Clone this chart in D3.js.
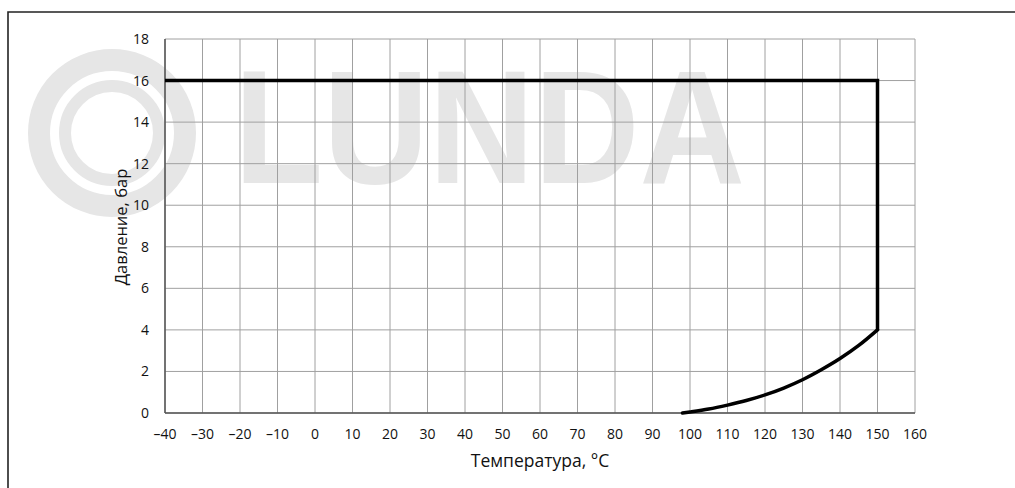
<!DOCTYPE html>
<html><head><meta charset="utf-8">
<script src="https://cdn.jsdelivr.net/npm/d3@7"></script>
<style>html,body{margin:0;padding:0;background:#fff;overflow:hidden}</style>
</head><body>
<svg id="c" width="1015" height="488"></svg>
<script>
// Data
const xTicks = [-40,-30,-20,-10,0,10,20,30,40,50,60,70,80,90,100,110,120,130,140,150,160];
const yTicks = [0,2,4,6,8,10,12,14,16,18];
const limitTemp = [-40, 150, 150, 145, 140, 135, 130, 125, 120, 115, 110, 105, 100, 98];
const limitPress = [16, 16, 4, 3.25, 2.62, 2.08, 1.6, 1.2, 0.87, 0.6, 0.38, 0.19, 0.05, 0];
const xTitle = "Температура, °C";
const yTitle = "Давление, бар";
const watermark = "LUNDA";

const svg = d3.select("#c");
const font = "'Open Sans', 'DejaVu Sans', sans-serif";
const x = d3.scaleLinear().domain([-40,160]).range([165,915]);
const y = d3.scaleLinear().domain([0,18]).range([413,39]);

// frame
svg.append("path").attr("d","M8,520 L8,12 L1100,12")
  .attr("fill","none").attr("stroke","#222").attr("stroke-width",1.6);

// watermark
const wmColor = "#e6e6e6";
const wm = svg.append("g").attr("fill","none").attr("stroke",wmColor);
wm.append("circle").attr("cx",112).attr("cy",133).attr("r",73).attr("stroke-width",22);
wm.append("circle").attr("cx",112).attr("cy",133).attr("r",47).attr("stroke-width",12);
svg.append("text").attr("x",234).attr("y",183).text(watermark)
  .attr("font-family","'Liberation Sans', Arial, sans-serif").attr("font-weight","bold")
  .attr("font-size",161).attr("fill",wmColor)
  .attr("textLength",511).attr("lengthAdjust","spacingAndGlyphs");

// grid
const grid = svg.append("g");
grid.selectAll("line.v").data(xTicks).join("line")
  .attr("x1",d=>x(d)).attr("x2",d=>x(d)).attr("y1",y(18)).attr("y2",y(0))
  .attr("stroke","#a0a0a0").attr("stroke-width",1);
grid.selectAll("line.h").data(yTicks).join("line")
  .attr("x1",x(-40)).attr("x2",x(160)).attr("y1",d=>y(d)).attr("y2",d=>y(d))
  .attr("stroke","#a0a0a0").attr("stroke-width",1);

// axes lines
svg.append("line").attr("x1",x(-40)).attr("x2",x(-40)).attr("y1",y(18)).attr("y2",y(0))
  .attr("stroke","#555").attr("stroke-width",1.5);
svg.append("line").attr("x1",x(-40)).attr("x2",x(160)).attr("y1",y(0)).attr("y2",y(0))
  .attr("stroke","#555").attr("stroke-width",1.5);

// tick labels
const fmt = d => d < 0 ? "\u2013" + Math.abs(d) : String(d);
svg.append("g").selectAll("text").data(xTicks).join("text")
  .attr("x",d=>x(d)).attr("y",439).attr("text-anchor","middle")
  .attr("font-family",font).attr("font-size",14).attr("fill","#111").text(fmt);
svg.append("g").selectAll("text").data(yTicks).join("text")
  .attr("x",149).attr("y",d=>y(d)+5).attr("text-anchor","end")
  .attr("font-family",font).attr("font-size",14).attr("fill","#111").text(fmt);

// titles
svg.append("text").attr("x",540).attr("y",467).attr("text-anchor","middle")
  .attr("font-family",font).attr("font-size",17.5).attr("fill","#111").text(xTitle);
svg.append("text").attr("transform","translate(127,227) rotate(-90)").attr("text-anchor","middle")
  .attr("font-family",font).attr("font-size",16.5).attr("fill","#111").text(yTitle);

// limit line
const pts = limitTemp.map((t,i)=>[t, limitPress[i]]);
const straight = pts.slice(0,3);
const curve = pts.slice(2);
svg.append("path").datum(straight)
  .attr("d", d3.line().x(d=>x(d[0])).y(d=>y(d[1])))
  .attr("fill","none").attr("stroke","#000").attr("stroke-width",3.5).attr("stroke-linejoin","miter");
svg.append("path").datum(curve)
  .attr("d", d3.line().x(d=>x(d[0])).y(d=>y(d[1])).curve(d3.curveMonotoneX))
  .attr("fill","none").attr("stroke","#000").attr("stroke-width",3.5).attr("stroke-linecap","round");
</script>
</body></html>
